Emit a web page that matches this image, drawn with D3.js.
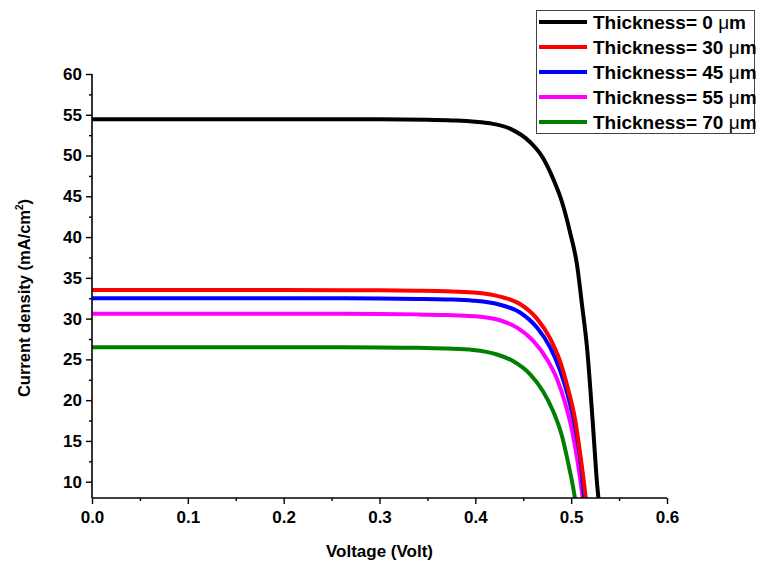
<!DOCTYPE html>
<html>
<head>
<meta charset="utf-8">
<script src="https://cdn.jsdelivr.net/npm/d3@7"></script>
<style>
  html, body { margin: 0; padding: 0; background: #fff; }
  svg { display: block; }
  text { font-family: Arial, "Liberation Sans", sans-serif; font-weight: bold; fill: #000; }
</style>
</head>
<body>
<svg id="chart" width="763" height="564"></svg>
<script>
// ---- Data ----
const seriesLabels = ["Thickness= 0 ", "Thickness= 30 ", "Thickness= 45 ", "Thickness= 55 ", "Thickness= 70 "];
const seriesColors = ["#000000", "#ff0000", "#0000ff", "#ff00ff", "#008000"];

const voltage0 = [0, 0.1, 0.2, 0.3, 0.35, 0.38, 0.4, 0.4153, 0.4362, 0.457, 0.4706, 0.481, 0.4904, 0.4988, 0.5061, 0.5113, 0.5165, 0.5228, 0.527, 0.5295];
const current0 = [54.45, 54.45, 54.45, 54.44, 54.38, 54.3, 54.15, 53.95, 53.3, 51.66, 49.7, 47.2, 44.3, 40.6, 36.6, 31.7, 26.5, 16.8, 9.8, 6.8];

const voltage30 = [0, 0.1, 0.2, 0.3, 0.34, 0.37, 0.3976, 0.4257, 0.4466, 0.4643, 0.4779, 0.4883, 0.4967, 0.504, 0.5092, 0.5134, 0.5158];
const current30 = [33.5, 33.5, 33.5, 33.47, 33.42, 33.35, 33.2, 32.7, 31.8, 30.0, 27.6, 24.8, 21.4, 17.7, 13.6, 9.84, 7.4];

const voltage45 = [0, 0.1, 0.2, 0.3, 0.34, 0.37, 0.3976, 0.4257, 0.4466, 0.4643, 0.4779, 0.4883, 0.4967, 0.504, 0.5092, 0.5123, 0.5142];
const current45 = [32.5, 32.5, 32.5, 32.47, 32.42, 32.35, 32.2, 31.7, 30.75, 28.9, 26.5, 23.7, 20.5, 16.8, 13.1, 9.6, 7.4];

const voltage55 = [0, 0.1, 0.2, 0.3, 0.34, 0.37, 0.3976, 0.4257, 0.4435, 0.4602, 0.4748, 0.4852, 0.4936, 0.5009, 0.5061, 0.5113, 0.5125];
const current55 = [30.6, 30.6, 30.6, 30.57, 30.52, 30.44, 30.3, 29.8, 28.9, 27.3, 25.0, 22.6, 19.7, 16.3, 12.9, 8.6, 7.4];

const voltage70 = [0, 0.1, 0.2, 0.3, 0.34, 0.37, 0.3976, 0.4226, 0.4393, 0.457, 0.4706, 0.481, 0.4904, 0.4967, 0.5019, 0.5045];
const current70 = [26.5, 26.5, 26.5, 26.47, 26.42, 26.32, 26.15, 25.6, 24.8, 23.2, 21.1, 18.7, 15.6, 12.4, 9.4, 7.6];

const xTicks = [0, 0.1, 0.2, 0.3, 0.4, 0.5, 0.6];
const yTicks = [10, 15, 20, 25, 30, 35, 40, 45, 50, 55, 60];
const xMinorTicks = [0.05, 0.15, 0.25, 0.35, 0.45, 0.55];
const yMinorTicks = [12.5, 17.5, 22.5, 27.5, 32.5, 37.5, 42.5, 47.5, 52.5, 57.5];

const xTitle = "Voltage (Volt)";
const yTitle = "Current density (mA/cm";

// ---- Build ----
const voltages = [voltage0, voltage30, voltage45, voltage55, voltage70];
const currents = [current0, current30, current45, current55, current70];
const series = seriesLabels.map((lab, i) => ({
  label: lab,
  color: seriesColors[i],
  points: voltages[i].map((v, k) => [v, currents[i][k]])
}));

const svg = d3.select("#chart");
const W = 763, H = 564;
const margin = { left: 92, right: 96, top: 74, bottom: 66 };
const x = d3.scaleLinear().domain([0, 0.6]).range([margin.left, W - margin.right]);
const y = d3.scaleLinear().domain([8, 60]).range([H - margin.bottom, margin.top]);

svg.append("rect").attr("width", W).attr("height", H).attr("fill", "#fff");

svg.append("defs").append("clipPath").attr("id", "plotclip")
  .append("rect")
  .attr("x", margin.left).attr("y", margin.top - 10)
  .attr("width", W - margin.left - margin.right + 10)
  .attr("height", H - margin.top - margin.bottom + 10);

// Lines
const line = d3.line()
  .x(d => x(d[0]))
  .y(d => y(d[1]))
  .curve(d3.curveMonotoneX);

const g = svg.append("g").attr("clip-path", "url(#plotclip)");
g.selectAll("path.series")
  .data(series.slice().reverse())
  .join("path")
  .attr("class", "series")
  .attr("d", d => line(d.points))
  .attr("fill", "none")
  .attr("stroke", d => d.color)
  .attr("stroke-width", 4);

// Axes
const fontFam = "Arial, 'Liberation Sans', sans-serif";
const xAxis = d3.axisBottom(x).tickValues(xTicks).tickFormat(d3.format(".1f")).tickSize(6).tickPadding(7);
const yAxis = d3.axisLeft(y).tickValues(yTicks).tickFormat(d3.format("d")).tickSize(6).tickPadding(4);

const gx = svg.append("g").attr("transform", `translate(0,${H - margin.bottom})`).call(xAxis);
const gy = svg.append("g").attr("transform", `translate(${margin.left},0)`).call(yAxis);

svg.append("g").attr("transform", `translate(0,${H - margin.bottom})`)
  .call(d3.axisBottom(x).tickValues(xMinorTicks).tickFormat("").tickSize(3))
  .call(s => s.select(".domain").remove());
svg.append("g").attr("transform", `translate(${margin.left},0)`)
  .call(d3.axisLeft(y).tickValues(yMinorTicks).tickFormat("").tickSize(3))
  .call(s => s.select(".domain").remove());

svg.selectAll(".domain").attr("stroke", "#000").attr("stroke-width", 1.6);
svg.selectAll(".tick line").attr("stroke", "#000").attr("stroke-width", 1.4);
gx.select(".domain").attr("d", `M${x(0)},0H${x(0.6)}`);
gy.select(".domain").attr("d", `M0,${y(8)}V${y(60)}`);

gx.selectAll(".tick text").attr("font-size", 17).attr("font-weight", "bold").attr("font-family", fontFam).attr("fill", "#000");
gy.selectAll(".tick text").attr("font-size", 17).attr("font-weight", "bold").attr("font-family", fontFam).attr("fill", "#000");

// Axis titles
svg.append("text")
  .attr("x", (x(0) + x(0.6)) / 2)
  .attr("y", 557)
  .attr("text-anchor", "middle")
  .attr("font-size", 17)
  .text(xTitle);

const yt = svg.append("text")
  .attr("transform", `translate(30,${(y(8) + y(60)) / 2 + 12}) rotate(-90)`)
  .attr("text-anchor", "middle")
  .attr("font-size", 16.5);
yt.append("tspan").text(yTitle);
yt.append("tspan").attr("font-size", 10).attr("dy", -7).text("2");
yt.append("tspan").attr("dy", 7).text(")");

// Legend
const lg = svg.append("g");
lg.append("rect")
  .attr("x", 536.5).attr("y", 10.5)
  .attr("width", 218).attr("height", 123)
  .attr("fill", "#fff")
  .attr("stroke", "#444")
  .attr("stroke-width", 1);

const rows = lg.selectAll("g.row").data(series).join("g")
  .attr("class", "row")
  .attr("transform", (d, i) => `translate(0,${22 + i * 25})`);
rows.append("line")
  .attr("x1", 539).attr("x2", 587)
  .attr("y1", 0).attr("y2", 0)
  .attr("stroke", d => d.color)
  .attr("stroke-width", 4);
const rt = rows.append("text")
  .attr("x", 593)
  .attr("y", 6.5)
  .attr("font-size", 19);
rt.append("tspan").text(d => d.label);
rt.append("tspan").attr("font-weight", "normal").text("μ");
rt.append("tspan").text("m");
</script>
</body>
</html>
